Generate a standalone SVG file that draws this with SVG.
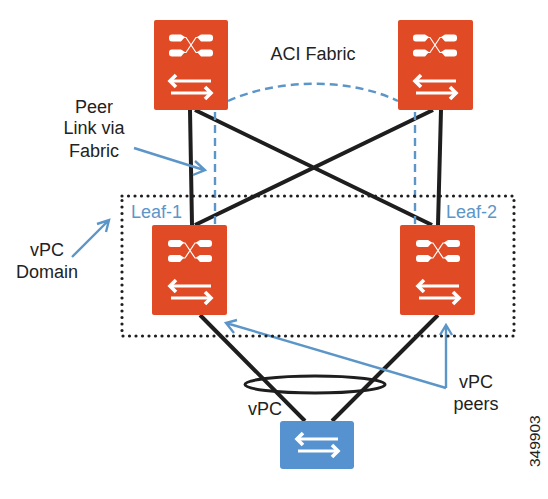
<svg xmlns="http://www.w3.org/2000/svg" width="548" height="499" viewBox="0 0 548 499">
<style>
text{font-family:"Liberation Sans",Arial,sans-serif;font-size:18px;fill:#222}
.b{fill:#5592cf}
.r{fill:#e04a25}
.l{stroke:#1e1e1e;stroke-width:4;fill:none}
.d{stroke:#5c96c9;stroke-width:2.4;fill:none;stroke-dasharray:8 5}
.a{stroke:#5c96c9;stroke-width:2.4;fill:none}
.w{stroke:#fff;fill:none}
.lb{fill:#5c96c9}
</style>
<defs>
<g id="x">
<path fill="#fff" d="M-22-8A3 3 0 0 1-19-11H-10L-6-8.500L-10-4H-19A3 3 0 0 1-22-7ZM-22 7A3 3 0 0 1-19 4H-10L-6 6.500L-10 11H-19A3 3 0 0 1-22 8ZM22-8A3 3 0 0 0 19-11H10L6-8.500L10-4H19A3 3 0 0 0 22-7ZM22 7A3 3 0 0 0 19 4H10L6 6.500L10 11H19A3 3 0 0 0 22 8Z"/>
<path class="w" stroke-width="1.2" d="M-8-8H-5L5 7H8M-8 7H-5L5-8H8"/>
</g>
<g id="t">
<path class="w" stroke-width="3" d="M-19-6H21M-19 6H21"/>
<path class="w" stroke-width="3.600" d="M-14-12L-20-6L-14 0M15 0L21 6L15 12"/>
</g>
</defs>
<g id="connectors">
<path class="l" d="M190 110L192 225M195 110L432 225M433 110L195 225M441 110L438 225M200 315L305 421M438 315L332 421"/>
<path class="d" d="M215 112V225M228 101C280 78 350 78 398 101M415 112V225"/>
<ellipse cx="315" cy="384.500" rx="70" ry="8.500" fill="none" stroke="#1e1e1e" stroke-width="3"/>
<path class="a" d="M134 148L204 170M195 161L205 170L193 175M72 257L108 221M97 224L109 220L106 232M446 388L226 323M237 320L226 323L234 333M446 388V325M440 335L446 325L452 335"/>
</g>
<rect id="domain" x="122" y="196" width="392" height="140" fill="none" stroke="#1e1e1e" stroke-width="3.200" stroke-dasharray="0 6.500" stroke-linecap="round"/>
<g id="spine-1"><rect class="r" x="154" y="20" width="74" height="90" rx="2"/><use href="#x" x="191" y="45.500"/><use href="#t" x="190" y="87"/></g>
<g id="spine-2"><rect class="r" x="398" y="20" width="75" height="90" rx="2"/><use href="#x" x="435" y="45.500"/><use href="#t" x="435" y="87"/></g>
<g id="leaf-1"><rect class="r" x="152" y="225" width="75" height="90" rx="2"/><use href="#x" x="190" y="251"/><use href="#t" x="190" y="292"/></g>
<g id="leaf-2"><rect class="r" x="400" y="225" width="75" height="90" rx="2"/><use href="#x" x="438" y="251"/><use href="#t" x="438" y="292"/></g>
<g id="host"><rect class="b" x="280" y="421" width="74" height="48" rx="3"/><use href="#t" x="317" y="445"/></g>
<text x="313" y="60" text-anchor="middle">ACI Fabric</text>
<text x="94" y="113" text-anchor="middle">Peer</text>
<text x="94" y="134" text-anchor="middle">Link via</text>
<text x="94" y="157" text-anchor="middle">Fabric</text>
<text x="131" y="218" class="lb">Leaf-1</text>
<text x="446" y="218" class="lb">Leaf-2</text>
<text x="47" y="256" text-anchor="middle">vPC</text>
<text x="47" y="278" text-anchor="middle">Domain</text>
<text x="265" y="415" text-anchor="middle">vPC</text>
<text x="476" y="388" text-anchor="middle">vPC</text>
<text x="476" y="410" text-anchor="middle">peers</text>
<text transform="translate(540 467) rotate(-90)" style="font-size:15.500px">349903</text>
</svg>
